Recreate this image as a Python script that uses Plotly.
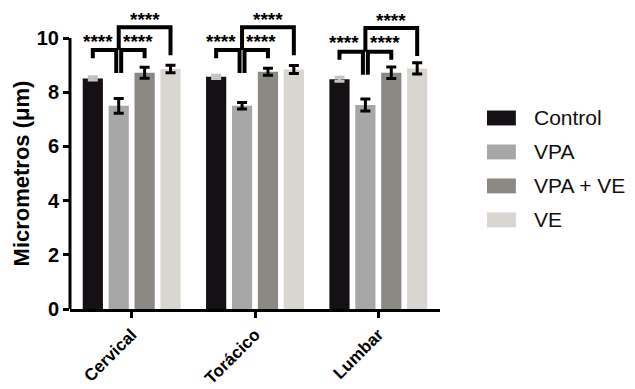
import plotly.graph_objects as go

# Spinal regions and treatment groups
categories = ["Cervical", "Torácico", "Lumbar"]
groups = ["Control", "VPA", "VPA + VE", "VE"]

# Mean diameter (µm) and SEM per group, in region order
control = [8.51, 8.57, 8.48]
control_err = [0.06, 0.06, 0.07]
vpa = [7.50, 7.50, 7.53]
vpa_err = [0.27, 0.12, 0.22]
vpa_ve = [8.72, 8.76, 8.72]
vpa_ve_err = [0.20, 0.13, 0.21]
ve = [8.86, 8.84, 8.88]
ve_err = [0.14, 0.15, 0.21]

# Significance marks for comparisons: Control-VPA, VPA-(VPA+VE), VPA-VE
sig_labels = ["****", "****", "****"]
# Bracket heights per region: lower pair and upper bracket
low_level = [9.56, 9.56, 9.50]
high_level = [10.40, 10.40, 10.37]

colors = ["#141014", "#a7a7a7", "#8c8985", "#d9d6d1"]
err_colors = ["#c4c4c4", "#000000", "#000000", "#000000"]
values = [control, vpa, vpa_ve, ve]
errors = [control_err, vpa_err, vpa_ve_err, ve_err]

FONT = "Liberation Sans"
BARGAP = 0.16
BARGROUPGAP = 0.22

x_idx = list(range(len(categories)))

fig = go.Figure()
for name, vals, errs, col, ecol in zip(groups, values, errors, colors, err_colors):
    fig.add_trace(go.Bar(
        x=x_idx, y=vals, name=name,
        marker=dict(color=col, line=dict(width=0)),
        error_y=dict(type="data", array=errs, visible=True,
                     color=ecol, thickness=3, width=5),
        showlegend=False,
    ))

# Centre offsets of the four bars inside a group
slot = (1 - BARGAP) / len(groups)
offsets = [(i - (len(groups) - 1) / 2) * slot for i in range(len(groups))]

shapes = []
annotations = []
d = 0.02
for g in x_idx:
    xc = [g + o for o in offsets]
    lo = low_level[g]
    hi = high_level[g]
    line = dict(color="black", width=4)
    # Control vs VPA
    shapes.append(dict(type="path", xref="x", yref="y", line=line,
                       path=f"M{xc[0]},{lo-0.30} L{xc[0]},{lo} L{xc[1]-d},{lo} L{xc[1]-d},{lo-0.85}"))
    # VPA vs VPA + VE
    shapes.append(dict(type="path", xref="x", yref="y", line=line,
                       path=f"M{xc[1]+d},{lo-0.85} L{xc[1]+d},{lo} L{xc[2]},{lo} L{xc[2]},{lo-0.30}"))
    # VPA vs VE
    shapes.append(dict(type="path", xref="x", yref="y", line=line,
                       path=f"M{xc[1]},{lo} L{xc[1]},{hi} L{xc[3]},{hi} L{xc[3]},{hi-1.03}"))
    sig_font = dict(family=FONT, size=19, color="black", weight="bold")
    annotations.append(dict(x=(xc[0] + xc[1]) / 2 - 0.065, y=lo - 0.14, xref="x", yref="y",
                            text=sig_labels[0], showarrow=False, yanchor="bottom", font=sig_font))
    annotations.append(dict(x=(xc[1] + xc[2]) / 2 + 0.05, y=lo - 0.14, xref="x", yref="y",
                            text=sig_labels[1], showarrow=False, yanchor="bottom", font=sig_font))
    annotations.append(dict(x=(xc[1] + xc[3]) / 2, y=hi - 0.18, xref="x", yref="y",
                            text=sig_labels[2], showarrow=False, yanchor="bottom", font=sig_font))

# Left axis line spanning 0-10 only
shapes.append(dict(type="line", xref="paper", yref="y", x0=0, x1=0, y0=0, y1=10,
                   line=dict(color="black", width=3)))

# Legend drawn as swatches with labels
leg_y = [0.641, 0.527, 0.413, 0.299]
sw_h = 0.025
for name, col, yy in zip(groups, colors, leg_y):
    shapes.append(dict(type="rect", xref="paper", yref="paper",
                       x0=1.127, x1=1.205, y0=yy - sw_h, y1=yy + sw_h,
                       fillcolor=col, line=dict(width=0)))
    annotations.append(dict(x=1.249, y=yy, xref="paper", yref="paper", text=name,
                            showarrow=False, xanchor="left", yanchor="middle",
                            font=dict(family=FONT, size=21, color="#111111")))

# Y axis title centred on the 0-10 span
annotations.append(dict(x=-0.13, y=5, xref="paper", yref="y", text="Micrometros (μm)",
                        textangle=-90, showarrow=False, xanchor="center", yanchor="middle",
                        font=dict(family=FONT, size=22, color="black", weight="bold")))

fig.update_layout(
    width=635, height=389,
    margin=dict(l=70, r=195, t=11, b=80, autoexpand=False),
    paper_bgcolor="white", plot_bgcolor="white",
    barmode="group", bargap=BARGAP, bargroupgap=BARGROUPGAP,
    shapes=shapes, annotations=annotations,
    font=dict(family=FONT, color="black"),
    xaxis=dict(
        range=[-0.5, 2.5], tickvals=x_idx, ticktext=categories, automargin=False,
        tickangle=-45, ticks="outside", ticklen=6, tickwidth=3, tickcolor="black",
        showline=True, linewidth=3, linecolor="black", showgrid=False, zeroline=False,
        tickfont=dict(family=FONT, size=17, color="black", weight="bold"),
    ),
    yaxis=dict(
        range=[0, 11], tickvals=[0, 2, 4, 6, 8, 10], automargin=False,
        ticks="outside", ticklen=6, tickwidth=3, tickcolor="black",
        showline=False, showgrid=False, zeroline=False,
        tickfont=dict(family=FONT, size=20, color="black", weight="bold"),
    ),
)

fig.write_html("out.html")
